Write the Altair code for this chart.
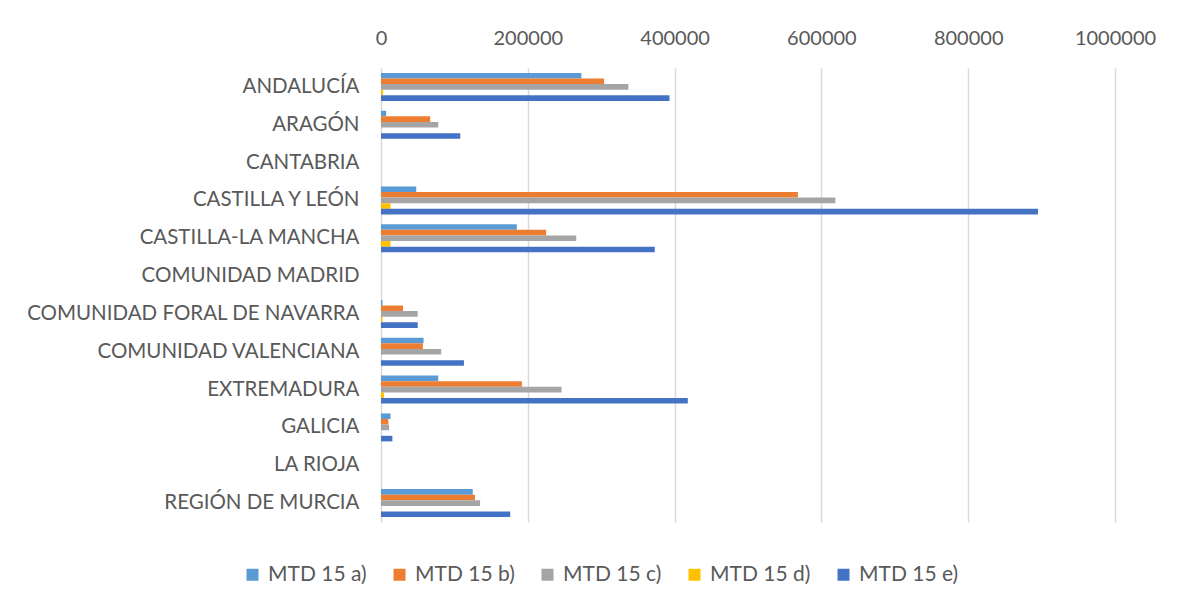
import altair as alt
import pandas as pd

categories = ["ANDALUCÍA", "ARAGÓN", "CANTABRIA", "CASTILLA Y LEÓN", "CASTILLA-LA MANCHA",
              "COMUNIDAD MADRID", "COMUNIDAD FORAL DE NAVARRA", "COMUNIDAD VALENCIANA",
              "EXTREMADURA", "GALICIA", "LA RIOJA", "REGIÓN DE MURCIA"]
series = ["MTD 15 a)", "MTD 15 b)", "MTD 15 c)", "MTD 15 d)", "MTD 15 e)"]
colors = ["#5B9BD5", "#ED7D31", "#A5A5A5", "#FFC000", "#4472C4"]

mtd_a = [273000, 7000, 0, 48000, 185000, 0, 2000, 58000, 78000, 13000, 0, 125000]
mtd_b = [304000, 67000, 0, 568000, 225000, 0, 30000, 57000, 192000, 10000, 0, 128000]
mtd_c = [337000, 78000, 0, 619000, 266000, 0, 50000, 82000, 246000, 11000, 0, 135000]
mtd_d = [3000, 0, 0, 13000, 13000, 0, 2000, 0, 4000, 0, 0, 0]
mtd_e = [393000, 108000, 0, 895000, 373000, 0, 50000, 113000, 418000, 15500, 0, 176000]

x_ticks = [0, 200000, 400000, 600000, 800000, 1000000]

rows = []
for s, vals in zip(series, [mtd_a, mtd_b, mtd_c, mtd_d, mtd_e]):
    for c, v in zip(categories, vals):
        rows.append({"region": c, "serie": s, "value": v})
df = pd.DataFrame(rows)

FONT = "Lato"
TXT = "#595959"

chart = alt.Chart(df).mark_bar().encode(
    y=alt.Y("region:N", sort=categories,
            scale=alt.Scale(paddingInner=0.26, paddingOuter=0.13),
            axis=alt.Axis(title=None, ticks=False, domain=False, labelPadding=22,
                          labelFontSize=20.5, labelFont=FONT, labelColor=TXT, labelLimit=400)),
    yOffset=alt.YOffset("serie:N", sort=series, scale=alt.Scale(paddingInner=0, paddingOuter=0)),
    x=alt.X("value:Q", scale=alt.Scale(domain=[0, 1000000], nice=False),
            axis=alt.Axis(orient="top", title=None, values=x_ticks, format="d", ticks=False,
                          domain=False, labelPadding=20, labelFontSize=20, labelFont=FONT,
                          labelColor=TXT, labelFlush=False, labelOverlap=False,
                          gridColor="#D9D9D9", gridWidth=1.5)),
    color=alt.Color("serie:N", sort=series,
                    scale=alt.Scale(domain=series, range=colors),
                    legend=alt.Legend(title=None, orient="none", direction="horizontal",
                                      legendX=-139, legendY=496, symbolType="square",
                                      symbolSize=144, symbolStrokeWidth=0, labelFontSize=21,
                                      labelFont=FONT, labelColor=TXT, columnPadding=22,
                                      labelOffset=5)),
).properties(
    width=734, height=454,
    autosize=alt.AutoSizeParams(type="none"),
    padding={"left": 373, "top": 60, "right": 61, "bottom": 85},
).configure_view(stroke=None)

chart.save("out.html", embed_options={"renderer": "svg", "actions": False})
